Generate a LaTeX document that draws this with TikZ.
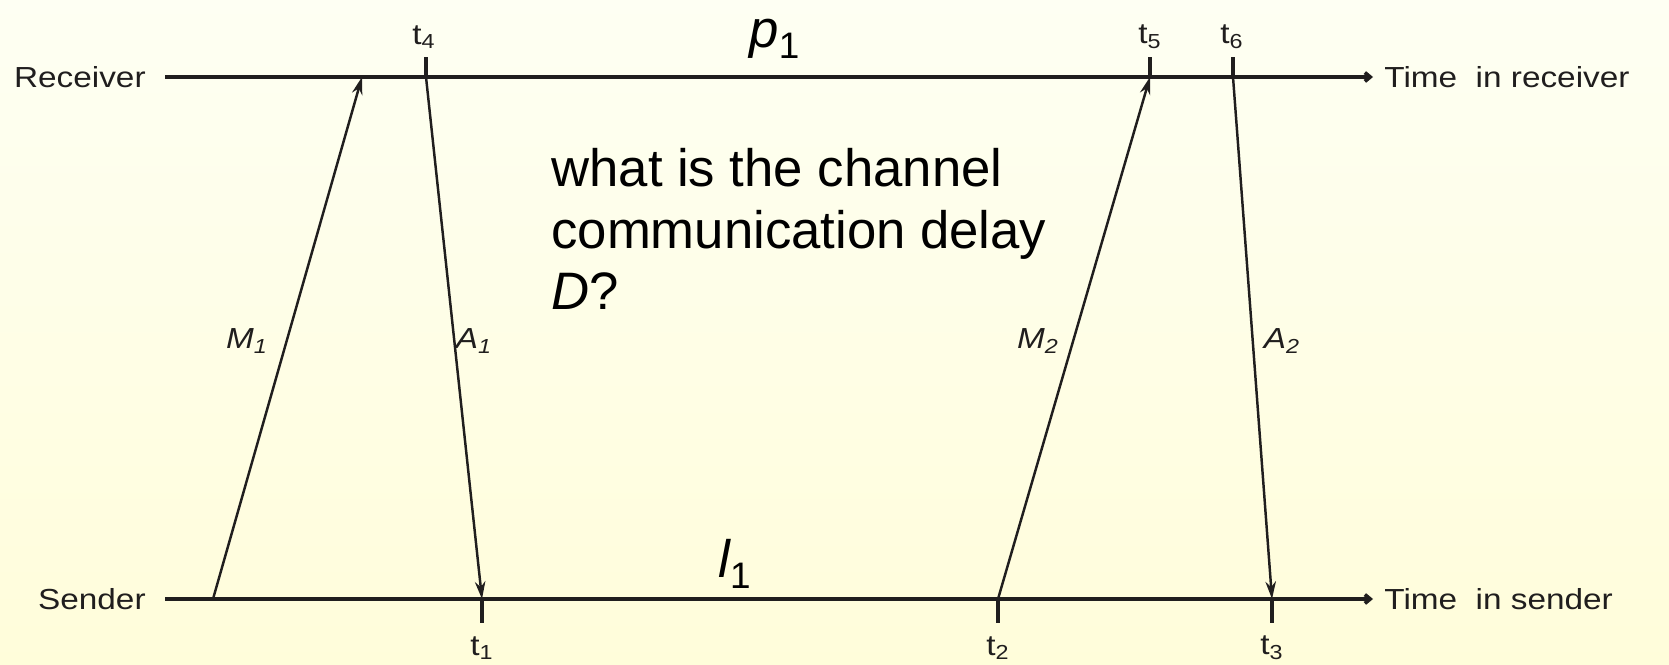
\documentclass[tikz,border=0pt]{standalone}
\usepackage{fontspec}
\setmainfont{Liberation Sans}
\newfontfamily\labelfont{Liberation Sans}[FakeStretch=1.15]
\usetikzlibrary{arrows.meta}
\definecolor{papertop}{RGB}{254,255,243}
\definecolor{paperlow}{RGB}{255,253,218}
\definecolor{ink}{RGB}{32,30,30}
\tikzset{
  axis/.style={draw=ink, line width=2.1pt, -{Straight Barb[length=3pt,width=5pt]}},
  msg/.style={draw=ink, line width=1.4pt, -{Stealth[length=10pt,width=6pt]}},
  tickmark/.style={draw=ink, line width=2.1pt},
  lbl/.style={font=\labelfont\fontsize{16.5}{18}\selectfont, text=ink, inner sep=0pt},
  big/.style={font=\fontsize{30}{35}\selectfont, text=black, inner sep=0pt},
}

\begin{document}
\begin{tikzpicture}[x=0.02cm, y=0.02cm]
  \useasboundingbox (0,0) rectangle (1669,665);
  \shade[top color=papertop, bottom color=paperlow] (0,0) rectangle (1669,665);

  % the two time lines
  \coordinate (r0) at (165,588);
  \coordinate (r1) at (1373,588);
  \coordinate (s0) at (165,66);
  \coordinate (s1) at (1373,66);
  \draw[axis] (r0) -- (r1);
  \draw[axis] (s0) -- (s1);
  \node[lbl, anchor=east] (recv) at (146,588) {Receiver};
  \node[lbl, anchor=east] (send) at (146,66) {Sender};
  \node[lbl, anchor=west] (trecv) at (1384,588) {Time \ in receiver};
  \node[lbl, anchor=west] (tsend) at (1384,66) {Time \ in sender};

  % events
  \coordinate (t4) at (426,588);
  \coordinate (t5) at (1150,588);
  \coordinate (t6) at (1233,588);
  \coordinate (t1) at (482,66);
  \coordinate (t2) at (998,66);
  \coordinate (t3) at (1272,66);
  \coordinate (m1s) at (213,66);
  \coordinate (m1e) at (362,588);
  \foreach \t in {t4,t5,t6} \draw[tickmark] (\t) -- ++(0,20);
  \foreach \t in {t1,t2,t3} \draw[tickmark] (\t) -- ++(0,-24);
  \node[lbl] (lt4) at (424,628) {t\textsubscript{4}};
  \node[lbl] (lt5) at (1150,628) {t\textsubscript{5}};
  \node[lbl] (lt6) at (1232,628) {t\textsubscript{6}};
  \node[lbl] (lt1) at (482,17) {t\textsubscript{1}};
  \node[lbl] (lt2) at (998,17) {t\textsubscript{2}};
  \node[lbl] (lt3) at (1272,17) {t\textsubscript{3}};

  % messages and acks
  \draw[msg] (m1s) -- (m1e);
  \draw[msg] (t4) -- (t1);
  \draw[msg] (t2) -- (t5);
  \draw[msg] (t6) -- (t3);
  \node[lbl] (m1) at (247,324) {\itshape M\textsubscript{1}};
  \node[lbl] (a1) at (474,324) {\itshape A\textsubscript{1}};
  \node[lbl] (m2) at (1038,324) {\itshape M\textsubscript{2}};
  \node[lbl] (a2) at (1282,324) {\itshape A\textsubscript{2}};

  \node[big, anchor=base] (p1) at (775,617) {{\itshape p}\textsubscript{1}};
  \node[big, anchor=base] (l1) at (735,87) {{\itshape l}\textsubscript{1}};
  \node[big, anchor=north west, align=left] (ask) at (551,517)
    {what is the channel\\communication delay\\{\itshape D}?};
\end{tikzpicture}
\end{document}
